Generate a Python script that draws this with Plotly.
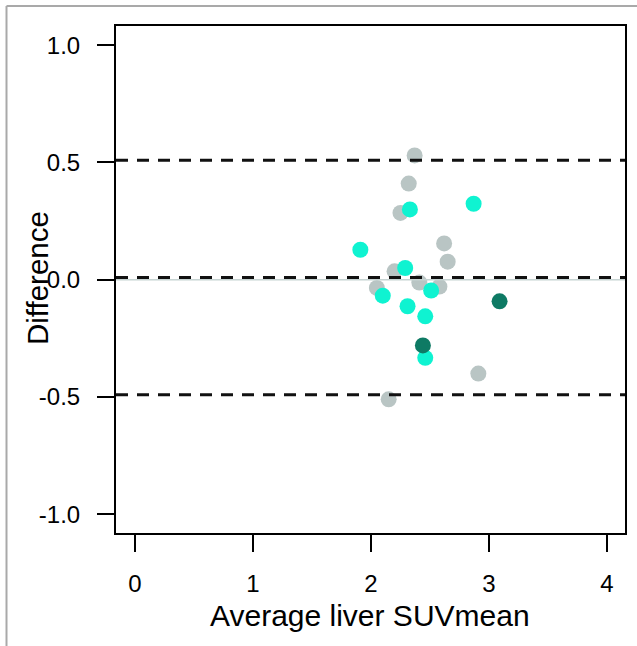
import plotly.graph_objects as go

# ---- data ----
grey_x = [2.37, 2.32, 2.25, 2.62, 2.65, 2.20, 2.41, 2.05, 2.58, 2.91, 2.15]
grey_y = [0.53, 0.41, 0.285, 0.155, 0.077, 0.036, -0.012, -0.035, -0.029, -0.40, -0.51]

cyan_x = [2.33, 2.87, 1.91, 2.29, 2.10, 2.31, 2.51, 2.46, 2.46]
cyan_y = [0.30, 0.324, 0.128, 0.050, -0.068, -0.113, -0.046, -0.156, -0.333]

dark_x = [3.09, 2.44]
dark_y = [-0.092, -0.28]

mean_diff = 0.01
upper_loa = 0.51
lower_loa = -0.49

y_tickvals = [-1.0, -0.5, 0.0, 0.5, 1.0]
y_ticktext = ["-1.0", "-0.5", "0.0", "0.5", "1.0"]
x_tickvals = [0, 1, 2, 3, 4]
x_ticktext = ["0", "1", "2", "3", "4"]

x_title = "Average liver SUVmean"
y_title = "Difference"

# ---- figure ----
W, H = 637, 646
L, R, T, B = 116, 12, 26, 113
pw, ph = W - L - R, H - T - B

def px_x(p):
    return (p - L) / pw

def px_y(p):
    return (H - B - p) / ph

FONT = "Liberation Sans, Arial, sans-serif"

fig = go.Figure()
for xs, ys, col in [(grey_x, grey_y, "#b9c5c4"),
                    (cyan_x, cyan_y, "#0ff3d1"),
                    (dark_x, dark_y, "#0e7a64")]:
    fig.add_trace(go.Scatter(x=xs, y=ys, mode="markers",
                             marker=dict(size=16, color=col, line=dict(width=0)),
                             showlegend=False, hoverinfo="x+y"))

# zero line
fig.add_hline(y=0, line=dict(color="#c6d3d2", width=1.5), layer="above")
for v in [upper_loa, mean_diff, lower_loa]:
    fig.add_hline(y=v, line=dict(color="#111111", width=3, dash="12px,9px"), layer="above")

# grey frame of the figure (left and top)
fig.add_shape(type="line", xref="paper", yref="paper",
              x0=px_x(6.5), x1=px_x(6.5), y0=px_y(6), y1=px_y(H + 2),
              line=dict(color="#a9a9a9", width=2))
fig.add_shape(type="line", xref="paper", yref="paper",
              x0=px_x(6.5), x1=px_x(W + 2), y0=px_y(6), y1=px_y(6),
              line=dict(color="#a9a9a9", width=2))

axis_common = dict(showline=True, linecolor="black", linewidth=2, mirror=True,
                   ticks="outside", ticklen=17, tickwidth=2, tickcolor="black",
                   showgrid=False, zeroline=False,
                   tickfont=dict(family=FONT, size=24, color="black"))

fig.update_xaxes(range=[-0.161, 4.153], tickvals=x_tickvals, ticktext=x_ticktext,
                 ticklabelstandoff=11, **axis_common)
fig.update_yaxes(range=[-1.08, 1.082], tickvals=y_tickvals, ticktext=y_ticktext,
                 ticklabelstandoff=12, **axis_common)

fig.add_annotation(text=x_title, xref="paper", yref="paper",
                   x=px_x(370), y=px_y(615), xanchor="center", yanchor="middle",
                   showarrow=False, font=dict(family=FONT, size=30, color="black"))
fig.add_annotation(text=y_title, xref="paper", yref="paper", textangle=-90,
                   x=px_x(37), y=px_y(278), xanchor="center", yanchor="middle",
                   showarrow=False, font=dict(family=FONT, size=29.5, color="black"))

fig.update_layout(width=W, height=H, margin=dict(l=L, r=R, t=T, b=B, autoexpand=False),
                  paper_bgcolor="white", plot_bgcolor="white",
                  font=dict(family=FONT, color="black"))

fig.write_html("out.html", config={"displayModeBar": False},
               post_script="document.body.style.margin='0';document.body.style.padding='0';")
